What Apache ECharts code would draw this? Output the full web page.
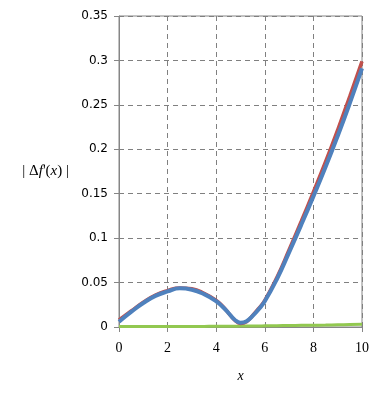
<!DOCTYPE html>
<html>
<head>
<meta charset="utf-8">
<script src="https://cdn.jsdelivr.net/npm/echarts@6/dist/echarts.min.js"></script>
<style>html,body{margin:0;padding:0;background:#fff}#c{width:386px;height:401px}</style>
</head>
<body>
<div id="c"></div>
<script>
var xValues    = [0,     0.5,   1,     1.5,   2,     2.5,    3,     3.5,   4,     4.25,  4.5,   4.75,  5,      5.25,  5.5,   5.75,  6,     6.5,   7,     7.5,   8,     8.5,   9,     9.5,   10];
var redValues  = [0.008, 0.018, 0.028, 0.036, 0.041, 0.044,  0.043, 0.038, 0.030, 0.024, 0.016, 0.008, 0.004,  0.006, 0.013, 0.021, 0.030, 0.056, 0.087, 0.119, 0.152, 0.186, 0.222, 0.260, 0.299];
var blueValues = [0.006, 0.017, 0.027, 0.035, 0.040, 0.0435, 0.042, 0.037, 0.029, 0.023, 0.016, 0.0085,0.0048, 0.0065,0.0125,0.020, 0.029, 0.054, 0.084, 0.115, 0.147, 0.180, 0.215, 0.252, 0.291];
var greenValues= [0.0005,0.0005,0.0005,0.0005,0.0006,0.0006, 0.0006,0.0007,0.0008,0.0008,0.0009,0.0009,0.001,  0.001, 0.0011,0.0012,0.0013,0.0015,0.0017,0.0019,0.002, 0.0022,0.0025,0.0028,0.003];
var yTicks = [0,0.05,0.1,0.15,0.2,0.25,0.3,0.35];
var xTicks = [0,2,4,6,8,10];

function pairs(v){ return xValues.map(function(x,i){ return [x, v[i]]; }); }

var chart = echarts.init(document.getElementById('c'));
chart.setOption({
  animation: false,
  grid: { left: 119, right: 24, top: 16, bottom: 74, show: true, borderColor: '#868686', borderWidth: 1, backgroundColor: 'transparent' },
  xAxis: {
    type: 'value', min: xTicks[0], max: xTicks[xTicks.length-1], interval: 2,
    name: 'x', nameLocation: 'middle', nameGap: 42,
    nameTextStyle: { fontFamily: 'Liberation Serif', fontStyle: 'italic', fontSize: 14, color: '#000' },
    axisLine: { lineStyle: { color: '#868686', width: 1 } },
    axisTick: { show: true, length: 5, lineStyle: { color: '#868686' } },
    axisLabel: { margin: 14, fontFamily: 'Liberation Serif', fontSize: 14, color: '#000',
      formatter: function(v){ return String(v); } },
    splitLine: { show: true, lineStyle: { color: '#808080', type: [5,4], width: 1 } }
  },
  yAxis: {
    type: 'value', min: yTicks[0], max: yTicks[yTicks.length-1], interval: 0.05,
    name: '{n|| Δ}{i|f}{n|\'(}{i|x}{n|) |}', nameLocation: 'middle', nameRotate: 0, nameGap: 50,
    nameTextStyle: { align: 'right', rich: {
      n: { fontFamily: 'Liberation Serif', fontSize: 15, color: '#000' },
      i: { fontFamily: 'Liberation Serif', fontStyle: 'italic', fontSize: 15, color: '#000' }
    } },
    axisLine: { show: true, lineStyle: { color: '#868686', width: 1 } },
    axisTick: { show: true, length: 5, lineStyle: { color: '#868686' } },
    axisLabel: { margin: 11, fontFamily: 'DejaVu Sans', fontSize: 12, color: '#000',
      formatter: function(v){ return String(Math.round(v*100)/100); } },
    splitLine: { show: true, lineStyle: { color: '#808080', type: [5,4], width: 1 } }
  },
  series: [
    { type: 'line', data: pairs(greenValues), smooth: true, symbol: 'none', lineStyle: { color: '#92C850', width: 3 }, z: 2 },
    { type: 'line', data: pairs(redValues), smooth: true, symbol: 'none', lineStyle: { color: '#C0504D', width: 3.5 }, z: 3 },
    { type: 'line', data: pairs(blueValues), smooth: true, symbol: 'none', lineStyle: { color: '#4F81BD', width: 4 }, z: 4 }
  ]
});
</script>
</body>
</html>
